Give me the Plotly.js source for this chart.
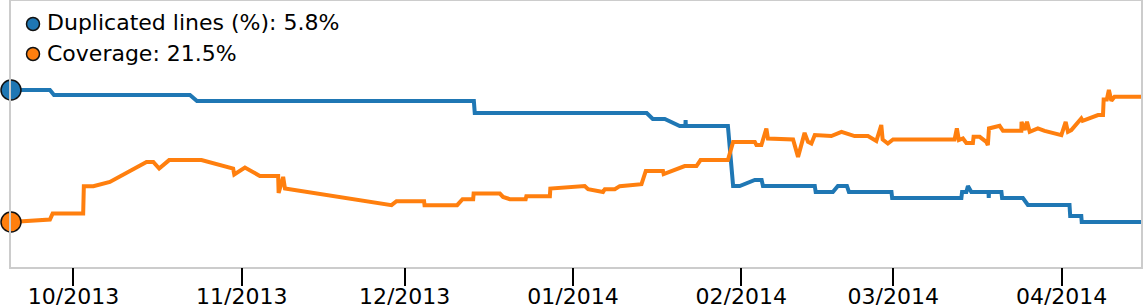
<!DOCTYPE html>
<html>
<head>
<meta charset="utf-8">
<script src="https://cdn.plot.ly/plotly-3.0.1.min.js"></script>
<style>
  html, body { margin: 0; padding: 0; background: #fff; }
  #chart { width: 1143px; height: 305px; }
</style>
</head>
<body>
<div id="chart"></div>
<script>
// ---- data ----
const dupName = "Duplicated lines (%): 5.8%";
const covName = "Coverage: 21.5%";

const dupDates = [
  "2013-09-19 12:00","2013-09-26 16:00","2013-09-27 10:00","2013-10-22 11:00","2013-10-23 18:00",
  "2013-12-13 18:00","2013-12-13 22:00","2014-01-14 14:00","2014-01-15 17:00","2014-01-17 22:00",
  "2014-01-20 16:00","2014-01-21 17:00","2014-01-21 18:00","2014-01-21 19:00","2014-01-29 13:00",
  "2014-01-30 12:00","2014-01-31 17:00","2014-02-03 12:00","2014-02-04 18:00","2014-02-05 00:00",
  "2014-02-14 13:00","2014-02-14 17:00","2014-02-17 21:00","2014-02-18 19:00","2014-02-20 11:00",
  "2014-02-20 20:00","2014-02-28 16:00","2014-02-28 19:00","2014-03-13 13:00","2014-03-13 16:00",
  "2014-03-14 11:00","2014-03-14 18:00","2014-03-15 09:00","2014-03-18 13:00","2014-03-18 14:00",
  "2014-03-18 15:00","2014-03-20 22:00","2014-03-21 01:00","2014-03-24 21:00","2014-03-25 19:00",
  "2014-04-02 11:00","2014-04-02 14:00","2014-04-04 15:00","2014-04-04 17:00","2014-04-15 15:00"
];
const dupValues = [
  7.12,7.12,7.07,7.07,7.01,
  7.01,6.89,6.89,6.83,6.83,
  6.76,6.76,6.82,6.76,6.76,
  6.16,6.16,6.22,6.22,6.16,
  6.16,6.10,6.10,6.16,6.16,
  6.10,6.10,6.04,6.04,6.10,
  6.10,6.16,6.10,6.10,6.04,
  6.10,6.10,6.04,6.04,5.97,
  5.97,5.86,5.86,5.80,5.80
];

const covDates = [
  "2013-09-19 12:00","2013-09-26 16:00","2013-09-27 04:00","2013-10-02 19:00","2013-10-02 22:00",
  "2013-10-04 16:00","2013-10-07 17:00","2013-10-14 11:00","2013-10-15 17:00","2013-10-16 19:00",
  "2013-10-18 15:00","2013-10-24 14:00","2013-10-30 10:00","2013-10-30 15:00","2013-11-01 14:00",
  "2013-11-04 08:00","2013-11-07 17:00","2013-11-07 19:00","2013-11-08 15:00","2013-11-08 23:00",
  "2013-11-28 14:00","2013-11-29 12:00","2013-12-04 14:00","2013-12-04 16:00","2013-12-10 16:00",
  "2013-12-11 16:00","2013-12-13 15:00","2013-12-13 17:00","2013-12-18 13:00","2013-12-19 03:00",
  "2013-12-20 09:00","2013-12-23 07:00","2013-12-23 10:00","2013-12-27 18:00","2013-12-27 20:00",
  "2013-12-31 10:00","2014-01-03 04:00","2014-01-03 19:00","2014-01-06 13:00","2014-01-06 21:00",
  "2014-01-08 17:00","2014-01-09 15:00","2014-01-13 15:00","2014-01-14 10:00","2014-01-17 14:00",
  "2014-01-17 17:00","2014-01-20 16:00","2014-01-21 14:00","2014-01-23 18:00","2014-01-24 12:00",
  "2014-01-29 13:00","2014-01-30 12:00","2014-02-03 12:00","2014-02-03 19:00","2014-02-04 17:00",
  "2014-02-05 15:00","2014-02-05 22:00","2014-02-10 13:00","2014-02-11 11:00","2014-02-12 16:00",
  "2014-02-13 07:00","2014-02-13 22:00","2014-02-14 13:00","2014-02-17 14:00","2014-02-19 11:00",
  "2014-02-20 09:00","2014-02-21 21:00","2014-02-24 08:00","2014-02-25 21:00","2014-02-26 19:00",
  "2014-02-27 01:00","2014-02-28 00:00","2014-02-28 23:00","2014-03-12 07:00","2014-03-12 17:00",
  "2014-03-13 02:00","2014-03-13 20:00","2014-03-14 11:00","2014-03-15 16:00","2014-03-15 19:00",
  "2014-03-16 22:00","2014-03-18 03:00","2014-03-18 10:00","2014-03-18 15:00","2014-03-19 23:00",
  "2014-03-20 14:00","2014-03-21 05:00","2014-03-24 14:00","2014-03-24 15:00","2014-03-25 05:00",
  "2014-03-25 15:00","2014-03-26 03:00","2014-03-27 15:00","2014-03-28 21:00","2014-03-31 23:00",
  "2014-04-01 18:00","2014-04-02 04:00","2014-04-02 19:00","2014-04-04 15:00","2014-04-04 21:00",
  "2014-04-07 17:00","2014-04-08 15:00","2014-04-08 18:00","2014-04-09 08:00","2014-04-09 17:00",
  "2014-04-10 04:00","2014-04-10 18:00","2014-04-15 15:00"
];
const covValues = [
  15.25,15.37,15.67,15.67,17.04,
  17.04,17.25,18.25,18.25,17.92,
  18.34,18.34,17.92,17.62,17.97,
  17.55,17.55,16.70,17.50,16.92,
  16.09,16.29,16.29,16.09,16.09,
  16.39,16.39,16.67,16.67,16.50,
  16.39,16.39,16.54,16.54,16.92,
  16.97,17.05,16.89,16.75,16.89,
  16.89,17.04,17.14,17.80,17.80,
  17.64,17.92,18.04,18.04,18.34,
  18.34,19.25,19.25,19.09,19.09,
  19.92,19.42,19.37,18.50,19.70,
  19.25,19.17,19.59,19.54,19.75,
  19.67,19.54,19.54,19.29,20.09,
  19.37,19.17,19.37,19.37,19.92,
  19.34,19.42,19.20,19.20,19.50,
  19.50,19.25,19.09,19.92,20.00,
  20.05,19.80,19.80,20.25,19.84,
  20.25,19.75,19.92,19.80,19.59,
  20.25,19.75,19.84,20.42,20.30,
  20.59,20.59,21.37,21.37,21.84,
  21.30,21.50,21.50
];

const dupColor = "#1f77b4";
const covColor = "#ff7f0e";

// ---- layout geometry ----
const W = 1143, H = 305;
const M = { l: 11, r: 2, t: 1, b: 38 };
const plotW = W - M.l - M.r, plotH = H - M.t - M.b;
// each series is scaled to its own min/max band (pixel rows in the plot)
const bandMinPx = 222, bandMaxPx = 90;
function bandRange(vals) {
  const mn = Math.min(...vals), mx = Math.max(...vals);
  const fMin = (H - M.b - bandMinPx) / plotH;
  const fMax = (H - M.b - bandMaxPx) / plotH;
  const span = (mx - mn) / (fMax - fMin);
  const lo = mn - fMin * span;
  return [lo, lo + span];
}
const px2x = p => (p - M.l) / plotW;
const px2y = p => (H - M.b - p) / plotH;

const font = "DejaVu Sans, Bitstream Vera Sans, Verdana, sans-serif";
const xRange = [dupDates[0], dupDates[dupDates.length - 1]];

const traces = [
  { x: dupDates, y: dupValues, type: "scatter", mode: "lines", name: dupName,
    line: { color: dupColor, width: 4 }, yaxis: "y", showlegend: false },
  { x: covDates, y: covValues, type: "scatter", mode: "lines", name: covName,
    line: { color: covColor, width: 4 }, yaxis: "y2", showlegend: false },
  { x: [dupDates[0]], y: [dupValues[0]], type: "scatter", mode: "markers", name: dupName,
    marker: { color: dupColor, size: 20, line: { color: "#111", width: 1.5 } },
    yaxis: "y", showlegend: false, cliponaxis: false },
  { x: [covDates[0]], y: [covValues[0]], type: "scatter", mode: "markers", name: covName,
    marker: { color: covColor, size: 20, line: { color: "#111", width: 1.5 } },
    yaxis: "y2", showlegend: false, cliponaxis: false },
  // invisible trace on the overlay x axis that carries the long tick marks
  { x: xRange, y: [null, null], type: "scatter", mode: "lines", xaxis: "x2", yaxis: "y",
    showlegend: false, hoverinfo: "skip" }
];

const legendRows = [
  { text: dupName, color: dupColor, cy: 24, ty: 22.5 },
  { text: covName, color: covColor, cy: 54, ty: 53 }
];

const layout = {
  width: W, height: H,
  margin: M,
  paper_bgcolor: "#fff", plot_bgcolor: "#fff",
  showlegend: false,
  font: { family: font, size: 22, color: "#000" },
  xaxis: {
    type: "date",
    range: xRange,
    showgrid: false, zeroline: false,
    showline: true, mirror: true, linecolor: "#cccccc", linewidth: 2,
    ticks: "outside", ticklen: 9, tickwidth: 2, tickcolor: "rgba(0,0,0,0)",
    tick0: "2013-10-01", dtick: "M1", tickformat: "%m/%Y",
    tickfont: { family: font, size: 22, color: "#000" }
  },
  xaxis2: {
    type: "date", overlaying: "x", matches: "x", anchor: "y", side: "bottom",
    range: xRange,
    showgrid: false, zeroline: false, showline: false, showticklabels: false,
    ticks: "outside", ticklen: 18, tickwidth: 2, tickcolor: "#000",
    tick0: "2013-10-01", dtick: "M1"
  },
  yaxis: {
    range: bandRange(dupValues),
    showgrid: false, zeroline: false, showticklabels: false, ticks: "",
    showline: true, mirror: true, linecolor: "#cccccc", linewidth: 2
  },
  yaxis2: {
    range: bandRange(covValues), overlaying: "y",
    visible: false, showgrid: false, zeroline: false
  },
  shapes: legendRows.map(r => ({
    type: "circle", xref: "paper", yref: "paper",
    xsizemode: "pixel", ysizemode: "pixel",
    xanchor: px2x(33), yanchor: px2y(r.cy),
    x0: -6.5, x1: 6.5, y0: -6.5, y1: 6.5,
    fillcolor: r.color, line: { color: "#111", width: 1.5 }, layer: "above"
  })),
  annotations: legendRows.map(r => ({
    text: r.text, xref: "paper", yref: "paper",
    x: px2x(45), y: px2y(r.ty), xanchor: "left", yanchor: "middle",
    showarrow: false, font: { family: font, size: 22, color: "#000" }
  }))
};

Plotly.newPlot("chart", traces, layout, { displayModeBar: false, staticPlot: true });
</script>
</body>
</html>
